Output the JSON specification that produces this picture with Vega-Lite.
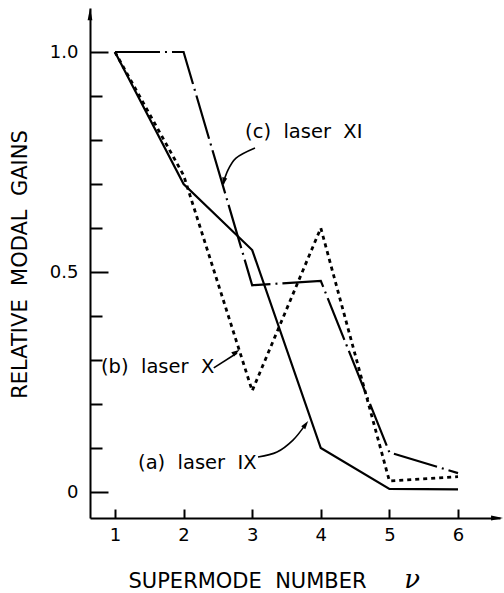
{
  "$schema": "https://vega.github.io/schema/vega-lite/v6.json",
  "autosize": {"type": "none"},
  "padding": {"left": 90, "top": 8, "right": 4, "bottom": 75},
  "width": 410,
  "height": 510,
  "background": "white",
  "config": {
    "view": {"stroke": null},
    "font": "DejaVu Sans",
    "text": {"font": "DejaVu Sans", "color": "black"}
  },
  "datasets": {
    "curves": [
      {"laser": "a", "nu": 1, "gain": 1.0},
      {"laser": "a", "nu": 2, "gain": 0.70},
      {"laser": "a", "nu": 3, "gain": 0.55},
      {"laser": "a", "nu": 4, "gain": 0.10},
      {"laser": "a", "nu": 5, "gain": 0.007},
      {"laser": "a", "nu": 6, "gain": 0.006},
      {"laser": "b", "nu": 1, "gain": 1.0},
      {"laser": "b", "nu": 2, "gain": 0.72},
      {"laser": "b", "nu": 3, "gain": 0.23},
      {"laser": "b", "nu": 4, "gain": 0.60},
      {"laser": "b", "nu": 5, "gain": 0.025},
      {"laser": "b", "nu": 6, "gain": 0.035},
      {"laser": "c", "nu": 1, "gain": 1.0},
      {"laser": "c", "nu": 2, "gain": 1.0},
      {"laser": "c", "nu": 3, "gain": 0.47},
      {"laser": "c", "nu": 4, "gain": 0.48},
      {"laser": "c", "nu": 5, "gain": 0.09},
      {"laser": "c", "nu": 6, "gain": 0.043}
    ],
    "labels": [
      {"text": "(c)\u00a0 laser\u00a0 XI", "nu": 2.896, "gain": 0.818},
      {"text": "(b)\u00a0 laser\u00a0 X", "nu": 0.796, "gain": 0.284},
      {"text": "(a)\u00a0 laser\u00a0 IX", "nu": 1.336, "gain": 0.066}
    ],
    "leaders": [
      {"arrow": "c", "step": 1, "nu": 3.041, "gain": 0.782},
      {"arrow": "c", "step": 2, "nu": 2.764, "gain": 0.759},
      {"arrow": "c", "step": 3, "nu": 2.633, "gain": 0.727},
      {"arrow": "c", "step": 4, "nu": 2.580, "gain": 0.700},
      {"arrow": "b", "step": 1, "nu": 2.440, "gain": 0.282},
      {"arrow": "b", "step": 2, "nu": 2.780, "gain": 0.316},
      {"arrow": "a", "step": 1, "nu": 3.085, "gain": 0.0795},
      {"arrow": "a", "step": 2, "nu": 3.362, "gain": 0.0909},
      {"arrow": "a", "step": 3, "nu": 3.595, "gain": 0.118},
      {"arrow": "a", "step": 4, "nu": 3.770, "gain": 0.152}
    ],
    "heads": [
      {"arrow": "c", "nu": 2.585, "gain": 0.705},
      {"arrow": "b", "nu": 2.766, "gain": 0.318},
      {"arrow": "a", "nu": 3.780, "gain": 0.154}
    ],
    "axisEnds": [
      {"end": "y", "nu": 0.636, "gain": 1.086},
      {"end": "x", "nu": 6.569, "gain": -0.059}
    ],
    "symbol": [
      {"text": "ν", "nu": 5.33, "gain": -0.218}
    ]
  },
  "encoding": {
    "x": {
      "field": "nu",
      "type": "quantitative",
      "scale": {"domain": [0.636, 6.612], "nice": false, "zero": false},
      "axis": {
        "values": [1, 2, 3, 4, 5, 6],
        "format": "d",
        "grid": false,
        "domainColor": "black",
        "domainWidth": 2,
        "tickColor": "black",
        "tickWidth": 2,
        "tickSize": -9,
        "labelPadding": 17,
        "labelFont": "DejaVu Sans",
        "labelFontSize": 18,
        "labelColor": "black",
        "title": "SUPERMODE\u00a0 NUMBER",
        "titleFont": "DejaVu Sans",
        "titleFontSize": 21,
        "titleFontWeight": "normal",
        "titleColor": "black",
        "titleAlign": "left",
        "titleBaseline": "alphabetic",
        "titleX": 38,
        "titleY": 69
      }
    },
    "y": {
      "field": "gain",
      "type": "quantitative",
      "scale": {"domain": [-0.059, 1.1], "nice": false, "zero": false},
      "axis": {
        "values": [0, 0.1, 0.2, 0.3, 0.4, 0.5, 0.6, 0.7, 0.8, 0.9, 1.0],
        "labelExpr": "datum.value === 1 ? '1.0' : (datum.value === 0.5 ? '0.5' : (datum.value === 0 ? '0' : ''))",
        "grid": false,
        "domainColor": "black",
        "domainWidth": 2,
        "tickColor": "black",
        "tickWidth": 2,
        "tickSize": {
          "condition": {"test": "datum.value === 0 || datum.value === 0.5 || datum.value === 1", "value": -18},
          "value": -12
        },
        "labelPadding": 30,
        "labelFont": "DejaVu Sans",
        "labelFontSize": 18,
        "labelColor": "black",
        "title": "RELATIVE\u00a0 MODAL\u00a0 GAINS",
        "titleFont": "DejaVu Sans",
        "titleFontSize": 21,
        "titleFontWeight": "normal",
        "titleColor": "black",
        "titleAngle": 270,
        "titleAlign": "center",
        "titleBaseline": "middle",
        "titleX": -70,
        "titleY": 256
      }
    }
  },
  "layer": [
    {
      "data": {"name": "curves"},
      "transform": [{"filter": "datum.laser === 'a'"}],
      "mark": {"type": "line", "color": "black", "strokeWidth": 2.2}
    },
    {
      "data": {"name": "curves"},
      "transform": [{"filter": "datum.laser === 'b'"}],
      "mark": {"type": "line", "color": "black", "strokeWidth": 2.8, "strokeDash": [4, 4]}
    },
    {
      "data": {"name": "curves"},
      "transform": [{"filter": "datum.laser === 'c'"}],
      "mark": {"type": "line", "color": "black", "strokeWidth": 2.2, "strokeDash": [45, 5, 2, 5]}
    },
    {
      "data": {"name": "labels"},
      "mark": {"type": "text", "align": "left", "baseline": "middle", "fontSize": 19.5, "color": "black"},
      "encoding": {"text": {"field": "text"}}
    },
    {
      "data": {"name": "leaders"},
      "mark": {"type": "line", "color": "black", "strokeWidth": 1.6, "interpolate": "cardinal"},
      "encoding": {
        "detail": {"field": "arrow", "type": "nominal"},
        "order": {"field": "step", "type": "quantitative"}
      }
    },
    {
      "data": {"name": "heads"},
      "transform": [{"filter": "datum.arrow === 'c'"}],
      "mark": {"type": "point", "shape": "M0,-1L0.6,1L-0.6,1Z", "filled": true, "color": "black", "opacity": 1, "size": 70, "angle": 195}
    },
    {
      "data": {"name": "heads"},
      "transform": [{"filter": "datum.arrow === 'b'"}],
      "mark": {"type": "point", "shape": "M0,-1L0.6,1L-0.6,1Z", "filled": true, "color": "black", "opacity": 1, "size": 70, "angle": 56}
    },
    {
      "data": {"name": "heads"},
      "transform": [{"filter": "datum.arrow === 'a'"}],
      "mark": {"type": "point", "shape": "M0,-1L0.6,1L-0.6,1Z", "filled": true, "color": "black", "opacity": 1, "size": 70, "angle": 36}
    },
    {
      "data": {"name": "axisEnds"},
      "transform": [{"filter": "datum.end === 'y'"}],
      "mark": {"type": "point", "shape": "M0,-1L0.4,1L-0.4,1Z", "filled": true, "color": "black", "opacity": 1, "size": 144, "angle": 0}
    },
    {
      "data": {"name": "axisEnds"},
      "transform": [{"filter": "datum.end === 'x'"}],
      "mark": {"type": "point", "shape": "M0,-1L0.4,1L-0.4,1Z", "filled": true, "color": "black", "opacity": 1, "size": 144, "angle": 90}
    },
    {
      "data": {"name": "symbol"},
      "mark": {"type": "text", "align": "center", "baseline": "alphabetic", "font": "DejaVu Serif", "fontStyle": "italic", "fontSize": 26, "color": "black"},
      "encoding": {"text": {"field": "text"}}
    }
  ]
}
